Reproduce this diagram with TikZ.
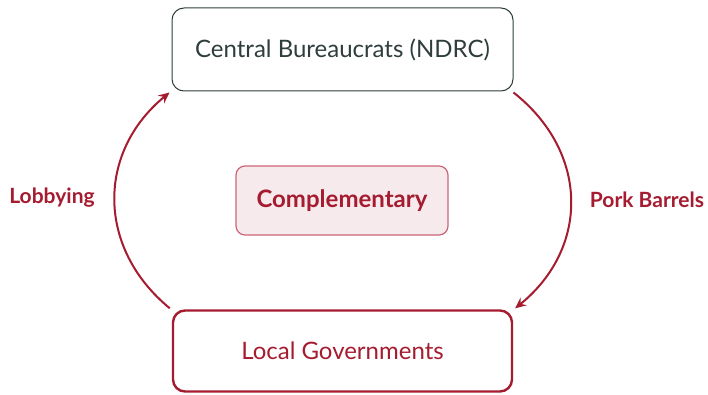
\documentclass[tikz,border=0pt]{standalone}
\usepackage{fontspec}
\setmainfont{Lato}
\usepackage{tikz}
\usepackage{xcolor}
\usetikzlibrary{arrows.meta}
\definecolor{crimson}{HTML}{A51C30}
\definecolor{slate}{HTML}{2F3D3D}
\definecolor{blush}{HTML}{F7EAEC}
\definecolor{rose}{HTML}{CC6677}
\tikzset{
    top-box/.style = {draw=slate, fill=white, line width=1pt, rectangle, rounded corners=12pt, minimum width=341pt, minimum height=83pt, text=slate, font=\fontsize{24}{28}\selectfont},
    mid-box/.style = {draw=rose, fill=blush, line width=1.2pt, rectangle, rounded corners=9pt, minimum width=212pt, minimum height=69pt, text=crimson, font=\fontsize{24}{28}\selectfont\bfseries},
    bottom-box/.style = {draw=crimson, fill=white, line width=2.4pt, rectangle, rounded corners=12pt, minimum width=339pt, minimum height=81pt, text=crimson, font=\fontsize{24}{28}\selectfont},
    flow-arrow/.style = {draw=crimson, line width=2pt, -{Stealth[length=11pt,width=10pt,inset=4pt]}},
    side-label/.style = {text=crimson, font=\fontsize{21}{25}\selectfont\bfseries},
}

\begin{document}
\begin{tikzpicture}[x=1pt,y=1pt]
\useasboundingbox (0,0) rectangle (708,394);
\node [top-box] (cb) at (342.5,344.5) {Central Bureaucrats (NDRC)};
\node [mid-box] (comp) at (342,193.5) {Complementary};
\node [bottom-box] (lg) at (342.5,43) {Local Governments};
% feedback loop
\draw [flow-arrow] ([shift={(-2pt,1pt)}]lg.north west) .. controls +(-73,60) and +(-73,-60) .. ([shift={(-2pt,-1pt)}]cb.south west);
\draw [flow-arrow] ([shift={(0pt,-1pt)}]cb.south east) .. controls +(76,-60) and +(74,60) .. ([shift={(2pt,1pt)}]lg.north east);
\node [side-label] (lobby) at (52,196) {Lobbying};
\node [side-label] (pork) at (647,194) {Pork Barrels};
\end{tikzpicture}
\end{document}
